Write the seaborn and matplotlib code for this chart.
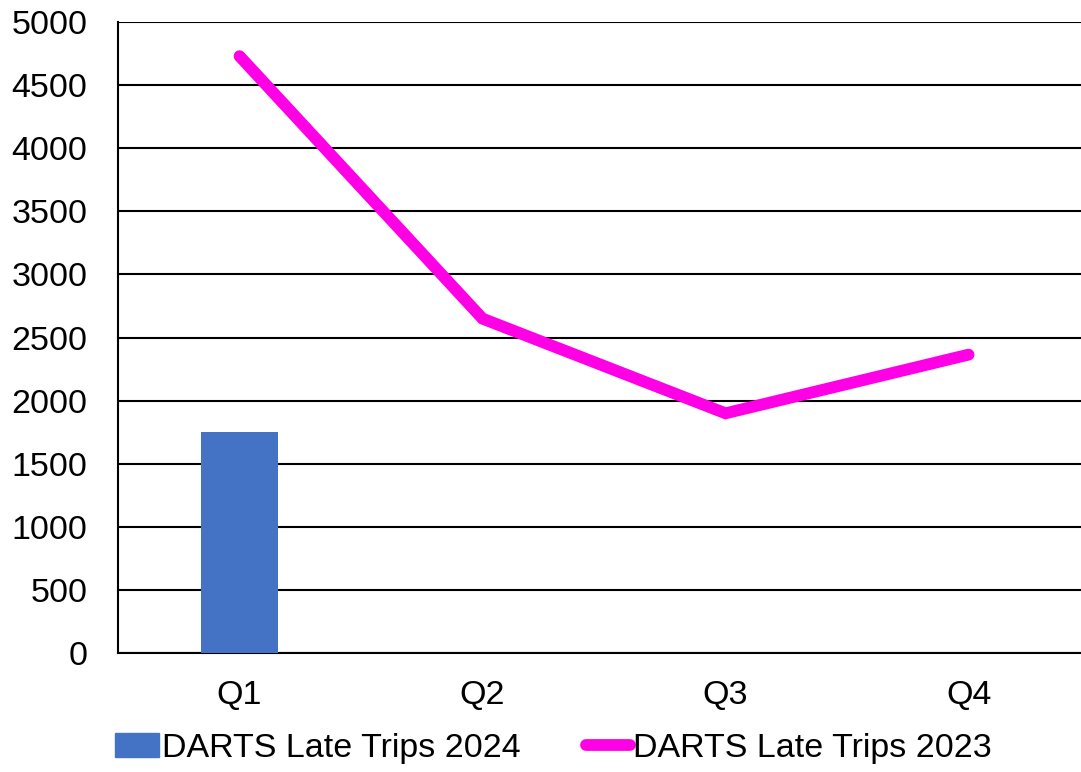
import pandas as pd
import numpy as np
import matplotlib
matplotlib.use("Agg")
import matplotlib.pyplot as plt
import seaborn as sns

# Chart data
quarters = ["Q1", "Q2", "Q3", "Q4"]
late_trips_2024 = [1750, np.nan, np.nan, np.nan]
late_trips_2023 = [4730, 2650, 1900, 2365]

df = pd.DataFrame({"Quarter": quarters,
                   "2024": late_trips_2024,
                   "2023": late_trips_2023})

sns.set_style("white")
plt.rcParams['font.family'] = ['Liberation Sans', 'DejaVu Sans']
plt.rcParams['text.color'] = 'black'

fig = plt.figure(figsize=(10.81, 7.72), dpi=100)
ax = fig.add_axes([0.1092, 0.154, 0.8992, 0.8174])

# bars for 2024
sns.barplot(data=df, x="Quarter", y="2024", order=quarters, color="#4472C4",
            saturation=1, width=0.32, linewidth=0, ax=ax, zorder=3)

# line for 2023
sns.pointplot(data=df, x="Quarter", y="2023", order=quarters, color="#FF00E6",
              markers="", errorbar=None, ax=ax, zorder=4)
for ln in ax.lines:
    ln.set_linewidth(8.5)
    ln.set_solid_capstyle("round")
    ln.set_solid_joinstyle("miter")

ax.set_xlim(-0.5, 3.5)
ax.set_ylim(0, 5000)
ax.set_yticks(range(0, 5001, 500))
ax.yaxis.grid(True, color="black", linewidth=1.5, zorder=0)
ax.set_axisbelow(True)
ax.set_xlabel("")
ax.set_ylabel("")

for side in ["top", "right"]:
    ax.spines[side].set_visible(False)
for side in ["left", "bottom"]:
    ax.spines[side].set_color("black")
    ax.spines[side].set_linewidth(1.5)

ax.tick_params(axis="y", labelsize=24.5, length=0, pad=22, colors="black")
ax.tick_params(axis="x", labelsize=24.5, length=0, pad=19, colors="black")

bar_handle = plt.Rectangle((0, 0), 1, 1, color="#4472C4")
line_handle = plt.Line2D([0], [0], color="#FF00E6", linewidth=8.5,
                         solid_capstyle="round")
fig.legend([bar_handle, line_handle],
           ["DARTS Late Trips 2024", "DARTS Late Trips 2023"],
           loc="center", bbox_to_anchor=(0.512, 0.031), ncol=2,
           frameon=False, fontsize=24.5, handlelength=1.3,
           handletextpad=0.1, columnspacing=1.9, labelcolor="black")

fig.savefig("out.png", dpi=100)
